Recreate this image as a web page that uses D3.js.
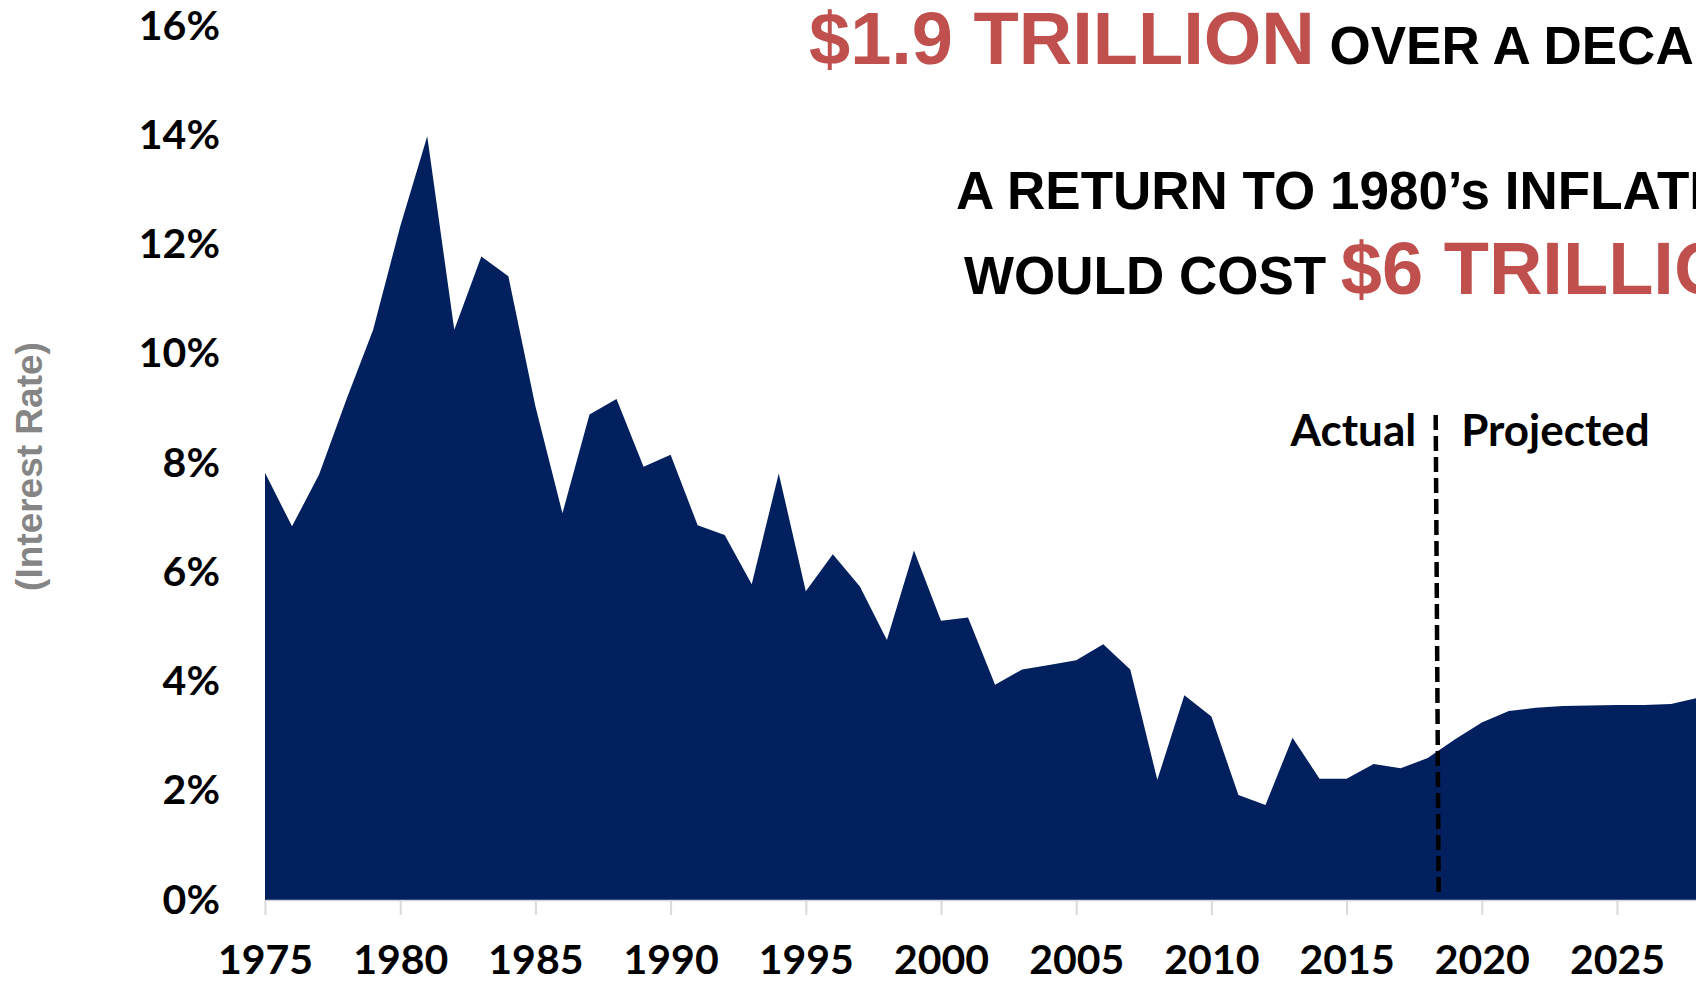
<!DOCTYPE html>
<html>
<head>
<meta charset="utf-8">
<script src="https://cdn.jsdelivr.net/npm/d3@7"></script>
<style>
  html, body { margin: 0; padding: 0; background: #ffffff; overflow: hidden; }
  svg { display: block; }
</style>
</head>
<body>
<svg id="chart" width="1696" height="982"></svg>
<script>
// Annual interest rate (%), actual through 2018 and projected afterwards
const years = [
  1975, 1976, 1977, 1978, 1979, 1980, 1981, 1982, 1983, 1984,
  1985, 1986, 1987, 1988, 1989, 1990, 1991, 1992, 1993, 1994,
  1995, 1996, 1997, 1998, 1999, 2000, 2001, 2002, 2003, 2004,
  2005, 2006, 2007, 2008, 2009, 2010, 2011, 2012, 2013, 2014,
  2015, 2016, 2017, 2018, 2019, 2020, 2021, 2022, 2023, 2024,
  2025, 2026, 2027, 2028
];
const rates = [
  7.82, 6.84, 7.79, 9.15, 10.44, 12.33, 13.98, 10.44, 11.78, 11.42,
  9.04, 7.08, 8.89, 9.17, 7.93, 8.15, 6.86, 6.68, 5.78, 7.81,
  5.65, 6.33, 5.74, 4.76, 6.40, 5.11, 5.17, 3.94, 4.22, 4.30,
  4.39, 4.68, 4.22, 2.20, 3.75, 3.36, 1.92, 1.74, 2.97, 2.22,
  2.22, 2.49, 2.41, 2.60, 2.94, 3.25, 3.46, 3.52, 3.55, 3.56,
  3.57, 3.57, 3.59, 3.70
];
const yTicks = [0, 2, 4, 6, 8, 10, 12, 14, 16];
const xTicks = [1975, 1980, 1985, 1990, 1995, 2000, 2005, 2010, 2015, 2020, 2025];
const dividerYear = 2018.35;   // boundary between actual and projected

const navy = "#02205e";
const red = "#c0504d";
const tickFont = "Lato, 'Open Sans', sans-serif";
const headFont = "'Liberation Sans', Arial, sans-serif";

const svg = d3.select("#chart");

const x = d3.scaleLinear().domain([1975, 2028]).range([265, 265 + 53 * 27.04]);
const y = d3.scaleLinear().domain([0, 16]).range([900, 26]);

const data = years.map((yr, i) => ({ year: yr, value: rates[i] }));

// filled area of the rate series
const area = d3.area()
  .x(d => x(d.year))
  .y0(y(0))
  .y1(d => y(d.value));

svg.append("path")
  .datum(data)
  .attr("d", area)
  .attr("fill", navy);

// x axis: light baseline, short ticks, bold year labels
const xAxis = svg.append("g")
  .attr("transform", `translate(0,${y(0)})`)
  .call(d3.axisBottom(x)
    .tickValues(xTicks)
    .tickFormat(d3.format("d"))
    .tickSize(15)
    .tickSizeOuter(0)
    .tickPadding(30));
xAxis.select(".domain").attr("stroke", "#d0d4dc").attr("stroke-width", 1.5);
xAxis.selectAll(".tick line").attr("stroke", "#d9d9d9").attr("stroke-width", 2);
xAxis.selectAll(".tick text")
  .attr("fill", "#000")
  .style("font-family", tickFont)
  .style("font-weight", "bold")
  .style("font-size", "41px");

// y axis: percentage labels only
const yAxis = svg.append("g")
  .attr("transform", `translate(${x(1975)},0)`)
  .call(d3.axisLeft(y)
    .tickValues(yTicks)
    .tickFormat(d => d + "%")
    .tickSize(0)
    .tickPadding(45));
yAxis.select(".domain").remove();
yAxis.selectAll(".tick text")
  .attr("fill", "#000")
  .style("font-family", tickFont)
  .style("font-weight", "bold")
  .style("font-size", "41px");

// y axis title
svg.append("text")
  .attr("transform", `translate(29,${(343 + 590) / 2}) rotate(-90)`)
  .attr("text-anchor", "middle")
  .attr("dominant-baseline", "central")
  .style("font-family", headFont)
  .style("font-weight", "bold")
  .style("font-size", "37px")
  .attr("fill", "#858585")
  .text("(Interest Rate)");

// actual / projected divider
const xd = x(dividerYear);
svg.append("line")
  .attr("x1", xd - 1.5).attr("x2", xd + 1.5)
  .attr("y1", 415).attr("y2", y(0) - 2)
  .attr("stroke", "#000")
  .attr("stroke-width", 4.5)
  .attr("stroke-dasharray", "15,6");

svg.append("text")
  .attr("x", xd - 21).attr("y", 446)
  .attr("text-anchor", "end")
  .style("font-family", tickFont)
  .style("font-weight", "bold")
  .style("font-size", "44px")
  .attr("fill", "#000")
  .text("Actual");

svg.append("text")
  .attr("x", xd + 24).attr("y", 446)
  .attr("text-anchor", "start")
  .style("font-family", tickFont)
  .style("font-weight", "bold")
  .style("font-size", "44px")
  .attr("fill", "#000")
  .text("Projected");

// headline text
const head = svg.append("g")
  .style("font-family", headFont)
  .style("font-weight", "bold");

const l1 = head.append("text").attr("x", 809).attr("y", 64);
l1.append("tspan").attr("fill", red).style("font-size", "74px").text("$1.9 TRILLION");
l1.append("tspan").attr("fill", "#000").style("font-size", "53px").text(" OVER A DECADE");

head.append("text")
  .attr("x", 956).attr("y", 209)
  .attr("fill", "#000")
  .style("font-size", "53px")
  .text("A RETURN TO 1980\u2019s INFLATION");

const l3 = head.append("text").attr("x", 964).attr("y", 294);
l3.append("tspan").attr("fill", "#000").style("font-size", "53px").text("WOULD COST ");
l3.append("tspan").attr("fill", red).style("font-size", "74px").text("$6 TRILLION");
</script>
</body>
</html>
